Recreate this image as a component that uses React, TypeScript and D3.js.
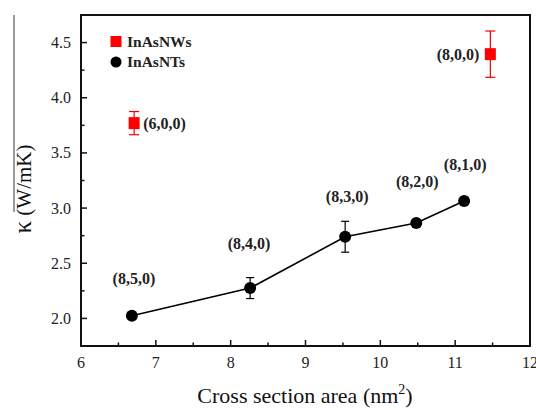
import { line, scaleLinear, range } from "d3";
import React from "react";

// InAs nanotubes (black circles, connected)
const ntArea = [6.68, 8.26, 9.53, 10.48, 11.12];
const ntKappa = [2.025, 2.275, 2.74, 2.865, 3.065];
const ntErr = [0, 0.095, 0.14, 0, 0];
const ntLabels = ["(8,5,0)", "(8,4,0)", "(8,3,0)", "(8,2,0)", "(8,1,0)"];

// InAs nanowires (red squares)
const nwArea = [6.71, 11.47];
const nwKappa = [3.77, 4.395];
const nwErr = [0.105, 0.21];
const nwLabels = ["(6,0,0)", "(8,0,0)"];

const xTicks = [6, 7, 8, 9, 10, 11, 12];
const yTicks = [2.0, 2.5, 3.0, 3.5, 4.0, 4.5];

const W = 536;
const H = 410;
const m = { left: 81, right: 530, top: 15, bottom: 346 };
const serif = { fontFamily: "'Liberation Serif', serif" };

export default function App() {
  const x = scaleLinear().domain([6, 12]).range([m.left, m.right]);
  const y = scaleLinear().domain([1.75, 4.75]).range([m.bottom, m.top]);

  const path = line<number>()
    .x((_, i) => x(ntArea[i]))
    .y((_, i) => y(ntKappa[i]));

  const xMinor = range(6.5, 12, 1);
  const yMinor = range(2.25, 4.75, 0.5);

  // label offsets relative to the point (px), baseline
  const ntLabelPos = [
    [2, -32],
    [-1, -39],
    [2, -35],
    [1, -36],
    [1, -31],
  ];

  return (
    <svg
      width={W}
      height={H}
      style={{ position: "absolute", left: 0, top: 0, background: "#fff" }}
    >
      <line x1={14} x2={14} y1={15} y2={212} stroke="#333" strokeWidth={1} />

      {/* frame */}
      <rect
        x={m.left}
        y={m.top}
        width={m.right - m.left}
        height={m.bottom - m.top}
        fill="none"
        stroke="#111"
        strokeWidth={2}
      />

      {/* x ticks */}
      {xTicks.map((t) => (
        <g key={"xt" + t}>
          <line x1={x(t)} x2={x(t)} y1={m.bottom} y2={m.bottom - 6} stroke="#111" strokeWidth={1.5} />
          <text x={x(t)} y={m.bottom + 22} textAnchor="middle" fontSize={16} fill="#222" style={serif}>
            {t}
          </text>
        </g>
      ))}
      {xMinor.map((t) => (
        <line key={"xm" + t} x1={x(t)} x2={x(t)} y1={m.bottom} y2={m.bottom - 3.5} stroke="#111" strokeWidth={1.5} />
      ))}

      {/* y ticks */}
      {yTicks.map((t) => (
        <g key={"yt" + t}>
          <line x1={m.left} x2={m.left + 6} y1={y(t)} y2={y(t)} stroke="#111" strokeWidth={1.5} />
          <text x={m.left - 10} y={y(t) + 5.5} textAnchor="end" fontSize={16} fill="#222" style={serif}>
            {t.toFixed(1)}
          </text>
        </g>
      ))}
      {yMinor.map((t) => (
        <line key={"ym" + t} x1={m.left} x2={m.left + 3.5} y1={y(t)} y2={y(t)} stroke="#111" strokeWidth={1.5} />
      ))}

      {/* axis titles */}
      <text x={305} y={403} textAnchor="middle" fontSize={22} fill="#111" style={serif}>
        Cross section area (nm
        <tspan dy={-9} fontSize={14}>2</tspan>
        <tspan dy={9}>)</tspan>
      </text>
      <text
        transform="translate(31,189) rotate(-90)"
        textAnchor="middle"
        fontSize={21}
        fill="#111"
        style={serif}
      >
        <tspan fontSize={25}>κ</tspan> (W/mK)
      </text>

      {/* NT line */}
      <path d={path(ntArea) ?? ""} fill="none" stroke="#000" strokeWidth={1.6} />

      {/* NT error bars */}
      {ntArea.map((a, i) =>
        ntErr[i] > 0 ? (
          <g key={"ne" + i} stroke="#000" strokeWidth={1.2}>
            <line x1={x(a)} x2={x(a)} y1={y(ntKappa[i] - ntErr[i])} y2={y(ntKappa[i] + ntErr[i])} />
            <line x1={x(a) - 4} x2={x(a) + 4} y1={y(ntKappa[i] + ntErr[i])} y2={y(ntKappa[i] + ntErr[i])} />
            <line x1={x(a) - 4} x2={x(a) + 4} y1={y(ntKappa[i] - ntErr[i])} y2={y(ntKappa[i] - ntErr[i])} />
          </g>
        ) : null
      )}
      {ntArea.map((a, i) => (
        <circle key={"nc" + i} cx={x(a)} cy={y(ntKappa[i])} r={6} fill="#000" />
      ))}
      {ntArea.map((a, i) => (
        <text
          key={"nl" + i}
          x={x(a) + ntLabelPos[i][0]}
          y={y(ntKappa[i]) + ntLabelPos[i][1]}
          textAnchor="middle"
          fontSize={16}
          fontWeight="bold"
          fill="#222"
          style={serif}
        >
          {ntLabels[i]}
        </text>
      ))}

      {/* NW error bars and squares */}
      {nwArea.map((a, i) => (
        <g key={"we" + i} stroke="#e00" strokeWidth={1.2}>
          <line x1={x(a)} x2={x(a)} y1={y(nwKappa[i] - nwErr[i])} y2={y(nwKappa[i] + nwErr[i])} />
          <line x1={x(a) - 5} x2={x(a) + 5} y1={y(nwKappa[i] + nwErr[i])} y2={y(nwKappa[i] + nwErr[i])} />
          <line x1={x(a) - 5} x2={x(a) + 5} y1={y(nwKappa[i] - nwErr[i])} y2={y(nwKappa[i] - nwErr[i])} />
        </g>
      ))}
      {nwArea.map((a, i) => (
        <rect key={"ws" + i} x={x(a) - 5.5} y={y(nwKappa[i]) - 6} width={11} height={12} fill="#f00" />
      ))}
      <text x={x(nwArea[0]) + 9} y={y(nwKappa[0]) + 5.5} fontSize={16} fontWeight="bold" fill="#222" style={serif}>
        {nwLabels[0]}
      </text>
      <text x={x(nwArea[1]) - 11} y={y(nwKappa[1]) + 5.5} textAnchor="end" fontSize={16} fontWeight="bold" fill="#222" style={serif}>
        {nwLabels[1]}
      </text>

      {/* legend */}
      <rect x={110.5} y={36} width={11} height={11} fill="#f00" />
      <text x={127} y={47} fontSize={15.5} fontWeight="bold" fill="#222" style={serif}>InAsNWs</text>
      <circle cx={116} cy={62} r={5.5} fill="#000" />
      <text x={127} y={67} fontSize={15.5} fontWeight="bold" fill="#222" style={serif}>InAsNTs</text>
    </svg>
  );
}
